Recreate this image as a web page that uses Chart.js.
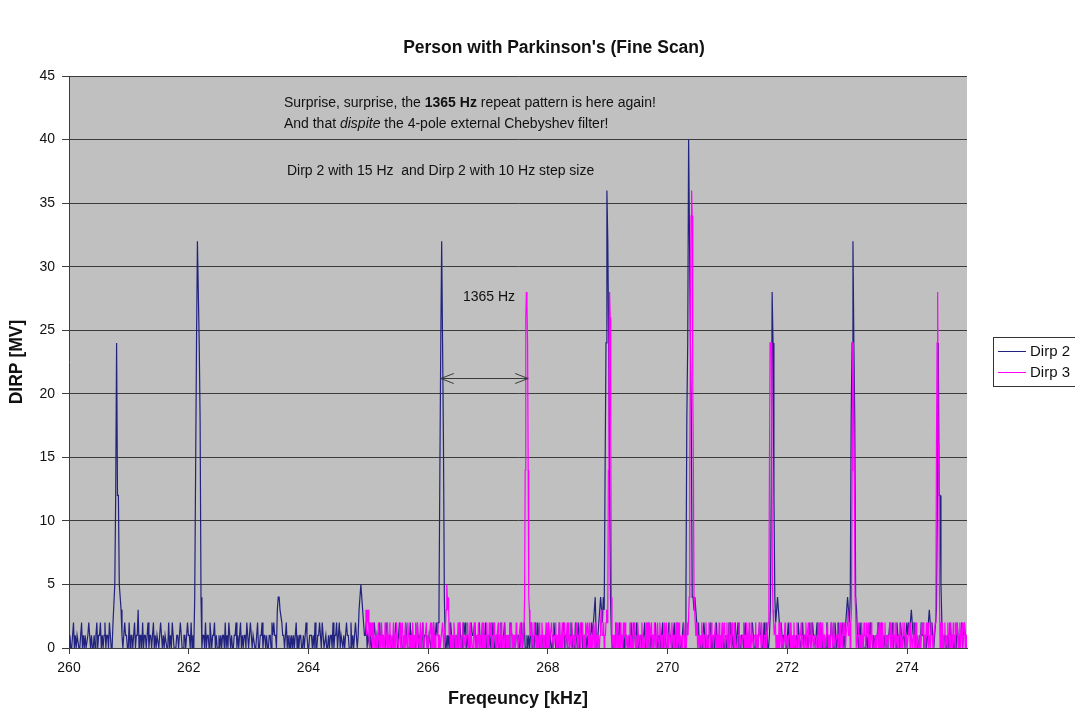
<!DOCTYPE html>
<html>
<head>
<meta charset="utf-8">
<script src="https://cdn.jsdelivr.net/npm/chart.js@4.4.1/dist/chart.umd.min.js"></script>
<style>
  html, body { margin: 0; padding: 0; background: #ffffff; }
  canvas { display: block; }
</style>
</head>
<body>
<canvas id="chart" width="1075" height="710"></canvas>
<script>
// ---- Scan settings ----
const dirp2Start = 260.0;   // kHz
const dirp2Step = 0.015;    // 15 Hz step
const dirp3Start = 264.95;  // kHz
const dirp3Step = 0.010;    // 10 Hz step

// ---- Noise floor readings (one digit per step) ----
const dirp2Noise = `
0100120101 1001201010 0121010010 1201120101 2011021002
1132343221 0121100201 1012011301 1020110120 1101201011
0121010110 0201021000 1101210011 0121102010 1121432101
1020110210 1120100101 0110201021 0100112010 1201011021
0121011001 2001120110 1001102121 1034433211 0120101010
1012010110 0101210011 1010200112 1021001001 0110201120
1201101012 1100201012 1013432121 1201101001 2101102011
1000210110 0101210121 1001021000 2011010120 1101201110
0110102012 1201102010 0101021010 1011021002 1210100121
1120101201 0101200110 1021001100 1200120101 0121101011
1001201200 1010120102 1021001101 0101201001 2100102001
1201100012 1010210201 1200110101 0121234101 2343213101
3201100102 1012011010 1100102012 1021001100 1201120101
1012001010 1201100121 1001201200 1001210121 2321343432
1200101210 1011201010 1201101010 0101021201 0120120101
1012001010 1210011012 1100201200 1201121234 3212101100
1201100010 1021101201 1010020121 1012001210 1100201012
1002101200 1210123432 1010201210 1201100010 1021101010
1200121010 1011201201 1021102101 1012121232 1201100102
1201101232 1210123412 1020011010 1201100102 1011201210
1`;

const dirp3Noise = `
2313231021 1202100110 0121010210 1102110201 1201101210
1021100120 1120101211 0211001102 1001200211 0120112100
1120100112 0201210011 1201100112 1011232132 1201101021
1000120210 0112011001 1201120110 0121001102 1001120201
0112010211 2001021100 1120110210 1102110011 0211201101
1021100112 0110211003 2113211201 1021100110 0201021100
1120102001 1211001120 1100201012 0112001201 2011021101
1021100112 0112011021 1210201010 0201201101 1012321120
1123211021 1201100112 0201012011 0211201100 1120110211
2010021100 1120110012 0201201120 1102110021 1021100112
0112011021 1021100112 0201201100 1120110021 1232132342
3211201100 1021100112 0110211021 1001120110 0201012011
2001200120 1102110211 0011201100 1120110210 0201021100
1120110021 1021100112 0112011232 1321120110 0201201100
1201100112 0201012011 0211001120 1100112011 2011021100
1100012012 0201201100 1120110021 1021100112 0112011021
1201123112 0232012011 0011201102 1102110211 2011021100
0010112012 0201201120 1100112021 1021102110 0112011021
1200100112 0211012011 2011001102 1120110211 2011021100
1120132312 0201201120 1102110021 1021102112 0112011201
120110`;

// ---- Repeat-pattern peaks (kHz of the maximum, then readings around it) ----
const dirp2PeakAt = [260.79, 262.15, 264.88, 266.22, 268.98, 270.35, 271.75, 273.10, 274.52];
const dirp2PeakValues = [
  [2, 5, 12, 24, 12, 12, 5, 4, 3],
  [4, 14, 24, 32, 28, 24, 18, 4],
  [3, 5, 4, 3],
  [3, 14, 24, 32, 24, 16, 4],
  [4, 3, 14, 24, 36, 32, 24, 14, 4],
  [4, 18, 24, 40, 32, 24, 18, 4],
  [3, 12, 28, 24, 12, 4],
  [4, 18, 24, 32, 24, 18, 4, 3],
  [3, 12, 24, 12, 12, 5]
];
const dirp3PeakAt = [266.31, 267.64, 269.03, 270.40, 271.71, 273.09, 274.51];
const dirp3PeakValues = [
  [3, 5, 4, 3, 4],
  [4, 14, 26, 28, 27, 24, 14, 4, 3],
  [3, 14, 24, 28, 26, 16, 4],
  [4, 14, 24, 34, 36, 34, 20, 14, 4, 3],
  [3, 14, 24, 24, 24, 14, 5],
  [3, 14, 24, 24, 24, 12, 4, 3],
  [3, 16, 24, 28, 16, 14, 4]
];

// ---- Axis ticks ----
const xTicks = [260, 262, 264, 266, 268, 270, 272, 274];
const yTicks = [0, 5, 10, 15, 20, 25, 30, 35, 40, 45];

// ---- Texts ----
const seriesNames = ['Dirp 2', 'Dirp 3'];
const chartTitle = "Person with Parkinson's (Fine Scan)";
const xTitle = 'Freqeuncy [kHz]';
const yTitle = 'DIRP [MV]';

// Notes inside the plot, anchored in data units (kHz, MV)
const noteLines = [
  { at: [263.59, 42.88], parts: [['Surprise, surprise, the ', ''], ['1365 Hz', 'bold'], [' repeat pattern is here again!', '']] },
  { at: [263.59, 41.22], parts: [['And that ', ''], ['dispite', 'italic'], [' the 4-pole external Chebyshev filter!', '']] },
  { at: [263.64, 37.53], parts: [['Dirp 2 with 15 Hz  and Dirp 2 with 10 Hz step size', '']] },
  { at: [266.58, 27.61], parts: [['1365 Hz', '']] }
];
const spacingArrow = { from: 266.21, to: 267.67, level: 21.24 };

const FONT = '"Liberation Sans", Arial, Helvetica, sans-serif';
const NAVY = '#22227f';
const MAGENTA = '#ff00ff';
const GRID = '#3c3c3c';
const PLOT_BG = '#c0c0c0';

function buildSeries(start, step, noise, peakAt, peakValues) {
  const values = Array.from(noise.replace(/\s+/g, ''), Number);
  peakAt.forEach((f, k) => {
    const shape = peakValues[k];
    const top = shape.indexOf(Math.max(...shape));
    const first = Math.round((f - start) / step) - top;
    shape.forEach((v, j) => { values[first + j] = v; });
  });
  return values.map((y, i) => ({ x: +(start + i * step).toFixed(3), y }));
}

const dirp2 = buildSeries(dirp2Start, dirp2Step, dirp2Noise, dirp2PeakAt, dirp2PeakValues);
const dirp3 = buildSeries(dirp3Start, dirp3Step, dirp3Noise, dirp3PeakAt, dirp3PeakValues);

const backdrop = {
  id: 'backdrop',
  beforeDraw(chart) {
    const { ctx, chartArea: a } = chart;
    ctx.save();
    ctx.fillStyle = '#ffffff';
    ctx.fillRect(0, 0, chart.width, chart.height);
    ctx.fillStyle = PLOT_BG;
    ctx.fillRect(a.left, a.top, a.right - a.left, a.bottom - a.top);
    ctx.restore();
  }
};

const notes = {
  id: 'notes',
  afterDatasetsDraw(chart) {
    const { ctx, scales: { x, y } } = chart;
    ctx.save();
    ctx.fillStyle = '#111111';
    ctx.textBaseline = 'middle';
    ctx.textAlign = 'left';
    noteLines.forEach(line => {
      let px = x.getPixelForValue(line.at[0]);
      const py = y.getPixelForValue(line.at[1]);
      line.parts.forEach(([text, style]) => {
        ctx.font = (style === 'bold' ? 'bold ' : style === 'italic' ? 'italic ' : '') + '14px ' + FONT;
        ctx.fillText(text, px, py);
        px += ctx.measureText(text).width;
      });
    });
    // double-headed arrow marking the repeat spacing
    const x1 = x.getPixelForValue(spacingArrow.from);
    const x2 = x.getPixelForValue(spacingArrow.to);
    const ay = Math.round(y.getPixelForValue(spacingArrow.level)) + 0.5;
    ctx.strokeStyle = '#3a3a3a';
    ctx.lineWidth = 1;
    ctx.beginPath();
    ctx.moveTo(x1, ay); ctx.lineTo(x2, ay);
    ctx.moveTo(x1 + 13, ay - 5); ctx.lineTo(x1, ay); ctx.lineTo(x1 + 13, ay + 5);
    ctx.moveTo(x2 - 13, ay - 5); ctx.lineTo(x2, ay); ctx.lineTo(x2 - 13, ay + 5);
    ctx.stroke();
    ctx.restore();
  }
};

const frame = {
  id: 'frame',
  afterDraw(chart) {
    const { ctx } = chart;
    ctx.save();
    // title
    ctx.fillStyle = '#111111';
    ctx.font = 'bold 17.5px ' + FONT;
    ctx.textAlign = 'center';
    ctx.textBaseline = 'middle';
    ctx.fillText(chartTitle, 554, 48);
    // legend
    const lx = 993, ly = 337;
    ctx.fillStyle = '#ffffff';
    ctx.fillRect(lx, ly, 110, 49);
    ctx.strokeStyle = '#333333';
    ctx.lineWidth = 1;
    ctx.strokeRect(lx + 0.5, ly + 0.5, 110, 49);
    ctx.font = '15px ' + FONT;
    ctx.textAlign = 'left';
    chart.data.datasets.forEach((ds, i) => {
      const ry = ly + 14 + i * 21;
      ctx.strokeStyle = ds.borderColor;
      ctx.beginPath();
      ctx.moveTo(lx + 5, ry + 0.5);
      ctx.lineTo(lx + 33, ry + 0.5);
      ctx.stroke();
      ctx.fillStyle = '#111111';
      ctx.fillText(ds.label, lx + 37, ry + 1);
    });
    ctx.restore();
  }
};

new Chart(document.getElementById('chart'), {
  type: 'line',
  data: {
    datasets: [
      { label: seriesNames[0], data: dirp2, borderColor: NAVY, borderWidth: 1.2, pointRadius: 0, tension: 0, order: 1 },
      { label: seriesNames[1], data: dirp3, borderColor: MAGENTA, borderWidth: 1.2, pointRadius: 0, tension: 0, order: 0 }
    ]
  },
  options: {
    responsive: false,
    animation: false,
    events: [],
    layout: { padding: { left: 0, right: 108, top: 76, bottom: 0 } },
    plugins: {
      legend: { display: false },
      title: { display: false },
      tooltip: { enabled: false }
    },
    scales: {
      x: {
        type: 'linear',
        min: xTicks[0],
        max: 275,
        afterBuildTicks(scale) { scale.ticks = xTicks.map(v => ({ value: v })); },
        afterFit(scale) { scale.height = 62; },
        ticks: { color: '#111111', font: { family: FONT, size: 14 }, padding: 6, maxRotation: 0 },
        grid: { drawOnChartArea: false, drawTicks: true, tickLength: 6, color: GRID },
        border: { color: GRID },
        title: { display: true, text: xTitle, color: '#111111', font: { family: FONT, size: 18, weight: 'bold' }, padding: { top: 0, bottom: 0 } }
      },
      y: {
        min: yTicks[0],
        max: yTicks[yTicks.length - 1],
        afterBuildTicks(scale) { scale.ticks = yTicks.map(v => ({ value: v })); },
        afterFit(scale) { scale.width = 69; },
        ticks: { color: '#111111', font: { family: FONT, size: 14 }, padding: 7 },
        grid: { color: GRID, tickLength: 7 },
        border: { color: GRID },
        title: { display: true, text: yTitle, color: '#111111', font: { family: FONT, size: 17.5, weight: 'bold' }, padding: { top: 7, bottom: 0 } }
      }
    }
  },
  plugins: [backdrop, notes, frame]
});
</script>
</body>
</html>
